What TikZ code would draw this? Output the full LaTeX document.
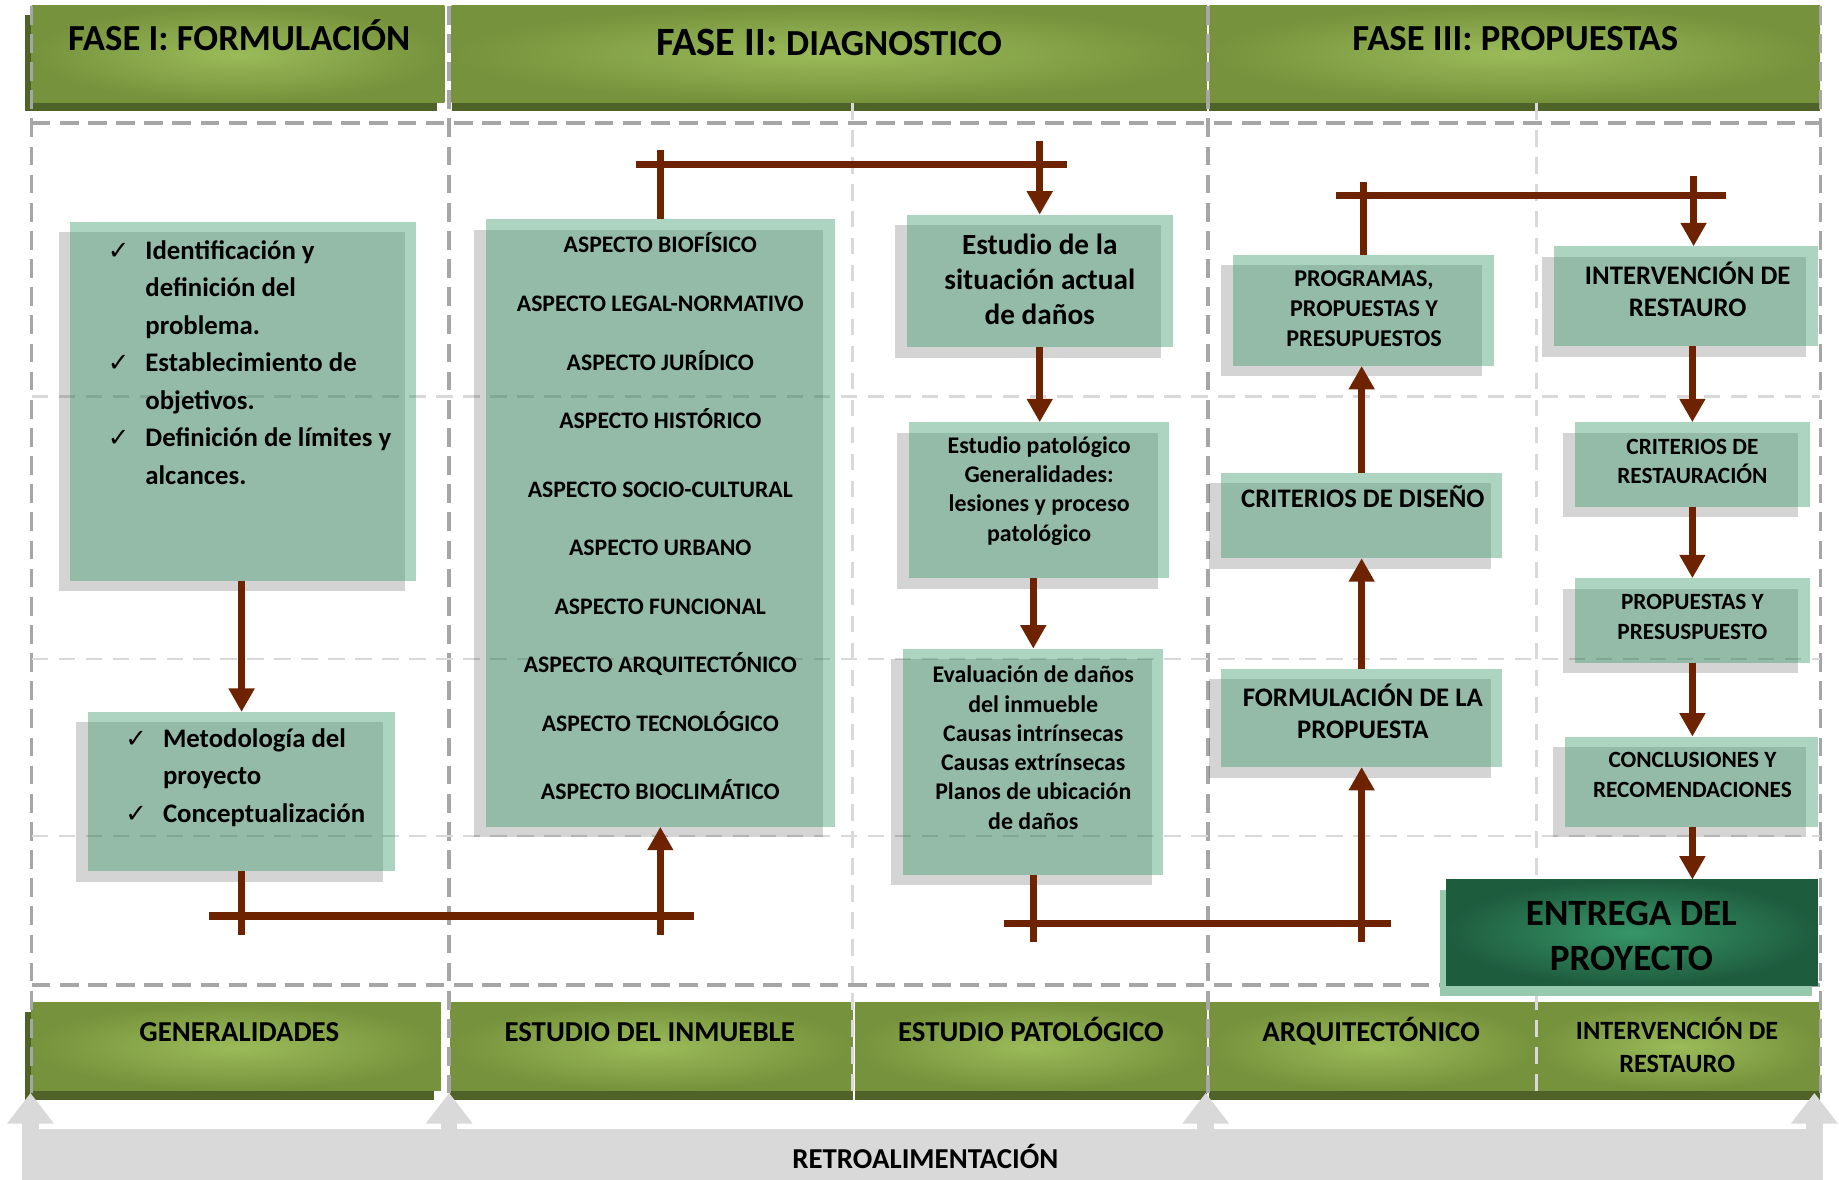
\documentclass[tikz,border=0pt]{standalone}
\usepackage{fontspec}
\setmainfont{Carlito}
\newfontfamily\checkfont{DejaVu Sans}
\usepackage{tikz}
\usetikzlibrary{arrows.meta, positioning, shadows}

\definecolor{bandlight}{RGB}{155,187,89}
\definecolor{banddark}{RGB}{118,146,60}
\definecolor{bandshadow}{RGB}{79,98,40}
\definecolor{boxgreen}{RGB}{55,150,104}
\definecolor{entlight}{RGB}{55,150,105}
\definecolor{entdark}{RGB}{30,92,62}
\definecolor{entshadow}{RGB}{151,201,174}
\definecolor{linkbrown}{RGB}{110,35,0}
\definecolor{retro}{RGB}{217,217,217}
\definecolor{dashgrey}{RGB}{166,166,166}
\definecolor{lightdash}{RGB}{217,217,217}

\newcommand{\fsz}[2]{\fontsize{#1}{#2}\selectfont}
\newcommand{\chk}{{\checkfont\fontsize{12.5}{14}\selectfont ✓}}

\begin{document}
\begin{tikzpicture}[
    x=0.02cm, y=-0.02cm,
    every node/.style={inner sep=0pt, outer sep=0pt},
    band/.style={inner color=bandlight, outer color=banddark,
        general shadow={fill=bandshadow, shadow xshift=#1, shadow yshift=-0.16cm}},
    band/.default=0cm,
    gbox/.style={fill=boxgreen, fill opacity=0.41,
        general shadow={fill=black, fill opacity=0.17, shadow xshift=-0.2cm, shadow yshift=-0.18cm}},
    entbox/.style={inner color=entlight, outer color=entdark,
        general shadow={fill=entshadow, shadow xshift=-0.1cm, shadow yshift=-0.18cm}},
    txt/.style={align=center, font=\bfseries},
    bigline/.style={text height=15pt, text depth=3.5pt},
    midline/.style={text height=12pt, text depth=3pt},
    conn/.style={draw=linkbrown, line width=0.12cm},
    arrow/.style={conn, -{Triangle[width=0.42cm, length=0.4cm]}},
    dashline/.style={draw=dashgrey, line width=0.06cm, dash pattern=on 0.32cm off 0.16cm},
    thindash/.style={draw=lightdash, line width=0.04cm, dash pattern=on 0.28cm off 0.18cm}
]
\useasboundingbox (0,0) rectangle (1568,1006);

% bandas de fases
\node[band=-0.12cm, minimum width=7.04cm, minimum height=1.64cm] (f1) at (203,46) {};
\node[band, minimum width=12.88cm, minimum height=1.64cm] (f2) at (707,46) {};
\node[band, minimum width=10.42cm, minimum height=1.64cm] (f3) at (1291.5,46) {};

\node[band=-0.12cm, minimum width=6.98cm, minimum height=1.5cm] (gen) at (201.5,892.5) {};
\node[band, minimum width=6.86cm, minimum height=1.5cm] (inm) at (555.5,892.5) {};
\node[band, minimum width=6.0cm, minimum height=1.5cm] (pat) at (879,892.5) {};
\node[band, minimum width=5.58cm, minimum height=1.5cm] (arq) at (1170.5,892.5) {};
\node[band, minimum width=4.84cm, minimum height=1.5cm] (res) at (1431,892.5) {};

% lineas punteadas
\draw[dashline] (27,105) -- (1552,105);
\draw[dashline] (27,840) -- (1552,840);
\foreach \x in {27,383,1030,1552}
    \draw[dashline] (\x,5) -- (\x,932);
\foreach \x in {727,1310}
    \draw[thindash] (\x,88) -- (\x,932);
\foreach \y in {338,562,713}
    \draw[thindash] (27,\y) -- (1552,\y);

% retroalimentacion
\fill[retro] (19,963) rectangle (1554,1006);
\foreach \x in {26,383,1028,1547} {
    \fill[retro] (\x-7,965) rectangle (\x+7,956);
    \fill[retro] (\x-20,958) -- (\x,932) -- (\x+20,958) -- cycle;
}

% cajas
\node[gbox, minimum width=5.90cm, minimum height=6.12cm] (ident) at (207.5,342) {};
\node[gbox, minimum width=5.24cm, minimum height=2.72cm] (meto) at (206,675) {};
\node[gbox, minimum width=5.96cm, minimum height=10.36cm] (aspect) at (563,446) {};
\node[gbox, minimum width=4.54cm, minimum height=2.26cm] (situ) at (886.5,239.5) {};
\node[gbox, minimum width=4.44cm, minimum height=2.66cm] (pato) at (886,426.5) {};
\node[gbox, minimum width=4.44cm, minimum height=3.86cm] (eval) at (881,649.5) {};
\node[gbox, minimum width=4.46cm, minimum height=1.90cm] (prog) at (1162.5,264.5) {};
\node[gbox, minimum width=4.80cm, minimum height=1.46cm] (crit) at (1161,439.5) {};
\node[gbox, minimum width=4.80cm, minimum height=1.68cm] (form) at (1161,612) {};
\node[gbox, minimum width=4.50cm, minimum height=1.70cm] (inter) at (1437.5,252.5) {};
\node[gbox, minimum width=4.00cm, minimum height=1.44cm] (crest) at (1443,396) {};
\node[gbox, minimum width=4.00cm, minimum height=1.44cm] (ppto) at (1443,529) {};
\node[gbox, minimum width=4.32cm, minimum height=1.54cm] (concl) at (1442,666.5) {};
\node[entbox, minimum width=6.34cm, minimum height=1.80cm] (entrega) at (1391.5,795) {};

% conectores
\coordinate (m1) at (206,797);
\coordinate (b1l) at (178,781);
\coordinate (b1r) at (592,781);
\coordinate (a1) at (563,797);
\coordinate (a2) at (563,128);
\coordinate (b2l) at (542,140);
\coordinate (b2r) at (910,140);
\coordinate (s1) at (886.5,120);
\coordinate (e1) at (881,803);
\coordinate (b3l) at (856,787);
\coordinate (b3r) at (1186,787);
\coordinate (f1c) at (1161,803);
\coordinate (p1) at (1162.5,155);
\coordinate (b4l) at (1139,167);
\coordinate (b4r) at (1472,167);
\coordinate (i1) at (1444,150);

\draw[arrow] (ident.south -| meto.north) -- (meto.north);
\draw[conn] (meto.south) -- (m1);
\draw[conn] (b1l) -- (b1r);
\draw[arrow] (a1) -- (aspect.south);
\draw[conn] (aspect.north) -- (a2);
\draw[conn] (b2l) -- (b2r);
\draw[arrow] (s1) -- (situ.north);
\draw[arrow] (situ.south) -- (situ.south |- pato.north);
\draw[arrow] (pato.south -| eval.north) -- (eval.north);
\draw[conn] (eval.south) -- (e1);
\draw[conn] (b3l) -- (b3r);
\draw[arrow] (f1c) -- (form.south);
\draw[arrow] (form.north) -- (crit.south);
\draw[arrow] (crit.north) -- (crit.north |- prog.south);
\draw[conn] (prog.north) -- (p1);
\draw[conn] (b4l) -- (b4r);
\draw[arrow] (i1) -- (i1 |- inter.north);
\draw[arrow] (inter.south -| crest.north) -- (crest.north);
\draw[arrow] (crest.south) -- (ppto.north);
\draw[arrow] (ppto.south) -- (ppto.south |- concl.north);
\draw[arrow] (concl.south -| ppto.south) -- (ppto.south |- entrega.north);

% textos de bandas
\node[txt, bigline, font=\bfseries\fsz{17.8}{21}] (f1t) at (204,33) {FASE I: FORMULACIÓN};
\node[txt, bigline] (f2t) at (707,37) {{\fsz{19.5}{22}FASE II: }{\fsz{17.8}{21}DIAGNOSTICO}};
\node[txt, bigline, font=\bfseries\fsz{17.8}{21}] (f3t) at (1292,33) {FASE III: PROPUESTAS};
\node[txt, midline, font=\bfseries\fsz{14}{17}] (gent) at (204,880) {GENERALIDADES};
\node[txt, midline, font=\bfseries\fsz{14}{17}] (inmt) at (554,880) {ESTUDIO DEL INMUEBLE};
\node[txt, midline, font=\bfseries\fsz{14}{17}] (patt) at (879,880) {ESTUDIO PATOLÓGICO};
\node[txt, midline, font=\bfseries\fsz{14}{17}] (arqt) at (1169,880) {ARQUITECTÓNICO};
\node[txt, font=\bfseries\fsz{12.8}{15.9}] (rest) at (1430,891) {INTERVENCIÓN DE\\RESTAURO};
\node[txt, midline, font=\bfseries\fsz{14}{17}] (retrot) at (789,988) {RETROALIMENTACIÓN};

% textos de cajas
\node[anchor=base west, font=\bfseries\fsz{13}{18.2}] (identt) at (92,221) {%
\begin{tabular}[t]{@{}p{0.64cm}@{}l@{}}
\chk & Identificación y\\
     & definición del\\
     & problema.\\
\chk & Establecimiento de\\
     & objetivos.\\
\chk & Definición de límites y\\
     & alcances.
\end{tabular}};
\node[anchor=base west, font=\bfseries\fsz{13}{18.2}] (metot) at (107,637) {%
\begin{tabular}[t]{@{}p{0.64cm}@{}l@{}}
\chk & Metodología del\\
     & proyecto\\
\chk & Conceptualización
\end{tabular}};
\foreach \t/\y [count=\i] in {ASPECTO BIOFÍSICO/209, ASPECTO LEGAL-NORMATIVO/259,
    ASPECTO JURÍDICO/309, ASPECTO HISTÓRICO/359, ASPECTO SOCIO-CULTURAL/418,
    ASPECTO URBANO/467, ASPECTO FUNCIONAL/517, ASPECTO ARQUITECTÓNICO/567,
    ASPECTO TECNOLÓGICO/617, ASPECTO BIOCLIMÁTICO/675}
    \node[txt, text height=10pt, text depth=2.5pt, font=\bfseries\fsz{11.5}{14}] (asp\i) at (563,\y) {\t};
\node[txt, font=\bfseries\fsz{14.2}{17.1}] (situt) at (886.5,238) {Estudio de la\\situación actual\\de daños};
\node[txt, font=\bfseries\fsz{11.6}{14.2}] (patot) at (886,418.5) {Estudio patológico\\Generalidades:\\lesiones y proceso\\patológico};
\node[txt, font=\bfseries\fsz{11.6}{14.2}] (evalt) at (881,637.5) {Evaluación de daños\\del inmueble\\Causas intrínsecas\\Causas extrínsecas\\Planos de ubicación\\de daños};
\node[txt, font=\bfseries\fsz{11.7}{14.5}] (progt) at (1163,263.5) {PROGRAMAS,\\PROPUESTAS Y\\PRESUPUESTOS};
\node[txt, text height=11.4pt, text depth=3pt, font=\bfseries\fsz{13}{15.4}] (critt) at (1162,425) {CRITERIOS DE DISEÑO};
\node[txt, font=\bfseries\fsz{13}{15.4}] (formt) at (1162,606.5) {FORMULACIÓN DE LA\\PROPUESTA};
\node[txt, font=\bfseries\fsz{13}{15.4}] (intert) at (1439,246.5) {INTERVENCIÓN DE\\RESTAURO};
\node[txt, font=\bfseries\fsz{11.3}{14.5}] (crestt) at (1443,393.5) {CRITERIOS DE\\RESTAURACIÓN};
\node[txt, font=\bfseries\fsz{11.3}{14.5}] (pptot) at (1443,526) {PROPUESTAS Y\\PRESUSPUESTO};
\node[txt, font=\bfseries\fsz{11.3}{14.5}] (conclt) at (1443,661) {CONCLUSIONES Y\\RECOMENDACIONES};
\node[txt, font=\bfseries\fsz{18}{21.6}] (entregat) at (1391,798) {ENTREGA DEL\\PROYECTO};

\end{tikzpicture}
\end{document}
